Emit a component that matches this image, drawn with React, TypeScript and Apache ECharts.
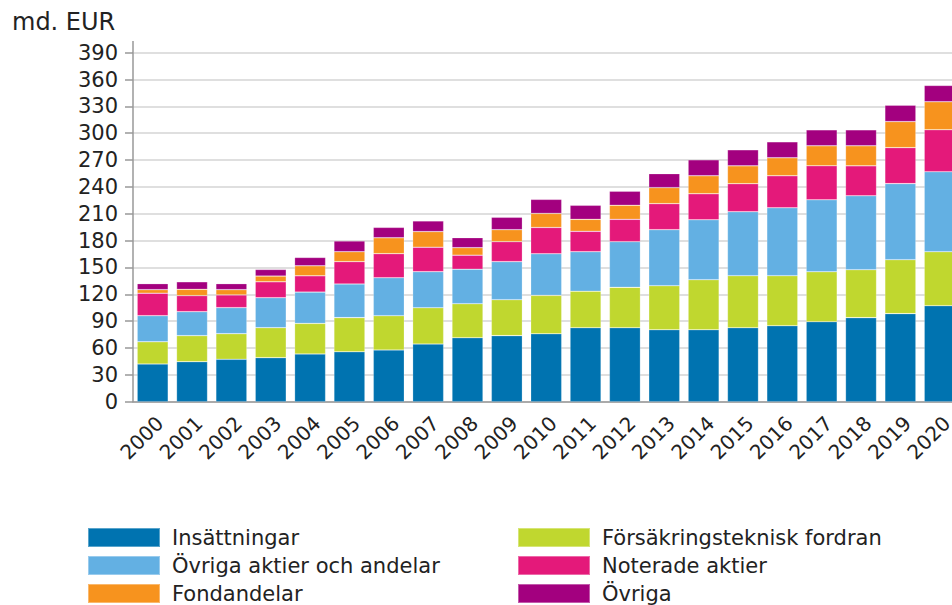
import React, { useEffect, useRef } from "react";
import * as echarts from "echarts";

const years = ["2000","2001","2002","2003","2004","2005","2006","2007","2008","2009","2010","2011","2012","2013","2014","2015","2016","2017","2018","2019","2020"];

const insattningar = [42.1,44.7,47.4,49.2,53.3,55.8,57.8,64.4,71.5,73.8,75.9,82.7,82.7,80.4,80.4,82.7,84.9,89.4,93.9,98.4,107.3];
const forsakring = [24.9,29.1,28.6,33.5,34.2,38.1,38.3,40.6,38.0,40.2,42.9,40.7,45.1,49.2,55.9,58.1,55.9,55.8,53.6,60.3,60.3];
const ovrigaAktier = [29.1,26.8,29.1,33.5,35.0,37.6,42.4,40.3,38.5,42.5,46.5,44.2,51.0,62.6,67.0,71.5,75.9,80.4,82.6,85.0,89.4];
const noterade = [25.1,17.9,14.2,17.8,18.2,25.0,26.9,27.3,15.7,22.3,29.4,22.8,25.0,29.1,29.1,31.3,35.8,38.0,33.5,40.2,46.9];
const fondandelar = [4.0,7.1,5.9,6.4,11.2,11.1,17.8,17.5,8.4,13.4,15.7,13.4,15.7,17.9,20.1,20.0,20.1,22.4,22.4,29.1,31.3];
const ovriga = [6.7,8.4,6.7,7.4,9.3,12.0,11.6,11.9,11.2,13.9,15.7,15.7,15.7,15.6,17.8,17.9,17.8,17.8,17.8,18.3,18.2];

const seriesNames = ["Insättningar","Försäkringsteknisk fordran","Övriga aktier och andelar","Noterade aktier","Fondandelar","Övriga"];
const seriesData = [insattningar, forsakring, ovrigaAktier, noterade, fondandelar, ovriga];
const colors = ["#0073B0","#C0D72F","#63B0E3","#E4197A","#F7931E","#A3007F"];

const FONT = "DejaVu Sans";
const CHART_H = 660;

export default function App() {
  const ref = useRef<HTMLDivElement>(null);
  useEffect(() => {
    if (!ref.current) return;
    const chart = echarts.init(ref.current, undefined, { renderer: "svg" });
    const legendCommon = {
      orient: "vertical" as const,
      icon: "rect",
      itemWidth: 72,
      itemHeight: 19,
      itemGap: 7,
      padding: 0,
      selectedMode: false,
      textStyle: { fontFamily: FONT, fontSize: 21, color: "#222", padding: [0, 0, 0, 7] },
    };
    chart.setOption({
      animation: false,
      color: colors,
      title: {
        text: "md. EUR",
        left: 12,
        top: 10,
        padding: 0,
        textStyle: { fontFamily: FONT, fontSize: 24, fontWeight: "normal", color: "#222" },
      },
      legend: [
        { ...legendCommon, left: 87, top: 527, data: [seriesNames[0], seriesNames[2], seriesNames[4]] },
        { ...legendCommon, left: 517, top: 527, data: [seriesNames[1], seriesNames[3], seriesNames[5]] },
      ],
      grid: { left: 133, right: 10.6, top: 52.7, bottom: 203.3 + (CHART_H - 605) },
      xAxis: {
        type: "category",
        data: years,
        axisLine: { show: true, lineStyle: { color: "#999", width: 1.5 } },
        axisTick: { show: false },
        axisLabel: {
          rotate: 45,
          margin: 11,
          verticalAlign: "top",
          fontFamily: FONT,
          fontSize: 20,
          color: "#222",
          interval: 0,
        },
      },
      yAxis: {
        type: "value",
        min: 0,
        max: 390,
        interval: 30,
        axisLine: { show: true, lineStyle: { color: "#999", width: 1.5 } },
        axisTick: { show: true, length: 8, lineStyle: { color: "#999", width: 1.5 } },
        axisLabel: { margin: 15, fontFamily: FONT, fontSize: 21, color: "#222" },
        splitLine: { show: true, lineStyle: { color: "#d4d4d4", width: 1.5 } },
      },
      graphic: [
        {
          type: "line",
          shape: { x1: 133, y1: 41, x2: 133, y2: 53 },
          style: { stroke: "#999", lineWidth: 1.5 },
        },
      ],
      series: seriesNames.map((name, i) => ({
        name,
        type: "bar",
        stack: "total",
        barWidth: 31,
        data: seriesData[i],
        itemStyle: { color: colors[i], borderColor: "rgba(255,255,255,0.35)", borderWidth: 0.6 },
      })),
    });
    return () => chart.dispose();
  }, []);
  return (
    <div style={{ position: "absolute", left: 0, top: 0, width: 952, height: 605, overflow: "hidden", background: "#fff" }}>
      <div ref={ref} style={{ width: 970, height: CHART_H }} />
    </div>
  );
}
